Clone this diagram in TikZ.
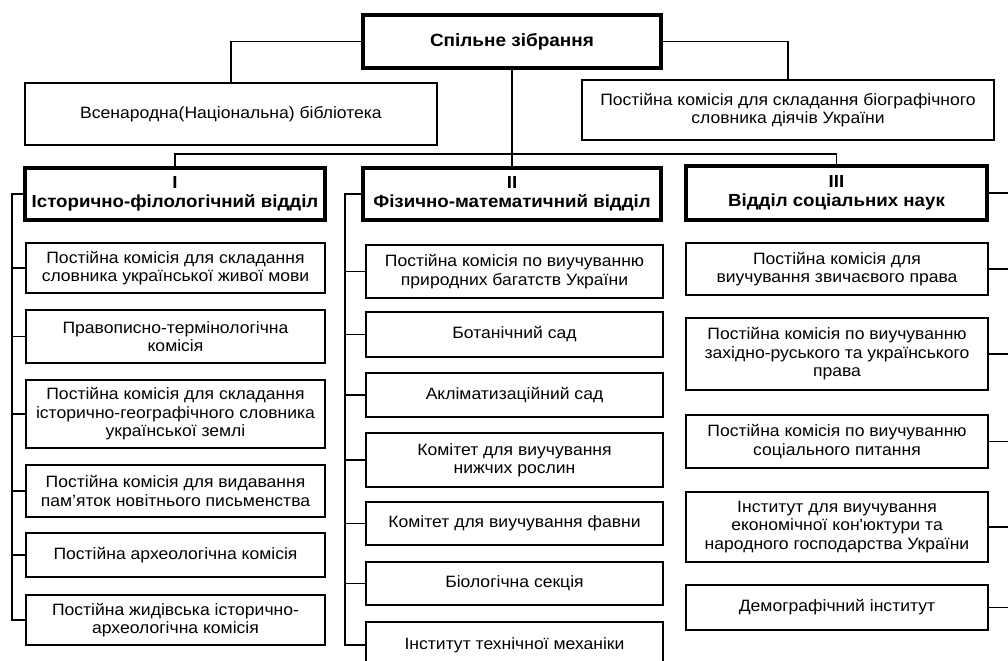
\documentclass[tikz,border=0pt]{standalone}
\usepackage{fontspec}
\setmainfont{Liberation Sans}[FakeStretch=1.07]
\usepackage{tikz}
\usetikzlibrary{positioning}
\tikzstyle{unit}=[draw,line width=1.1pt,align=center,inner sep=1pt,font=\fontsize{12.3}{13.8}\selectfont]
\tikzstyle{dept}=[draw,line width=2.6pt,align=center,inner sep=0pt,font=\bfseries\fontsize{13.1}{14.5}\selectfont]
\tikzstyle{chief}=[draw,line width=3.6pt,align=center,inner sep=0pt,font=\bfseries\fontsize{13.3}{14.5}\selectfont]
\tikzstyle{edge} = [draw,line width=1pt,-]

\begin{document}
\begin{tikzpicture}[x=0.75pt,y=-0.75pt]
    \useasboundingbox (0,0) rectangle (1008,661);
    % Top level
    \node[chief,minimum width=298*0.75pt,minimum height=53*0.75pt] (top) at (512,41.5) {Спільне зібрання};
    \node[unit,minimum width=412*0.75pt,minimum height=62*0.75pt] (lib) at (231,114) {Всенародна(Національна) бібліотека};
    \node[unit,minimum width=412*0.75pt,minimum height=60*0.75pt] (bio) at (788,110) {Постійна комісія для складання біографічного\\словника діячів України};

    % Departments
    \node[dept,minimum width=300*0.75pt,minimum height=52*0.75pt] (dI) at (175,194) {I\\Історично-філологічний відділ};
    \node[dept,minimum width=298*0.75pt,minimum height=52*0.75pt] (dII) at (512,194) {II\\Фізично-математичний відділ};
    \node[dept,minimum width=301*0.75pt,minimum height=54*0.75pt] (dIII) at (836.5,193) {III\\Відділ соціальних наук};

    % Commissions of the first department
    \foreach \y/\h/\name/\txt in {268/50/a1/{Постійна комісія для складання\\словника української живої мови},
        336.5/53/a2/{Правописно-термінологічна\\комісія},
        414/68/a3/{Постійна комісія для складання\\історично-географічного словника\\української землі},
        491/52/a4/{Постійна комісія для видавання\\пам’яток новітнього письменства},
        555/44/a5/{Постійна археологічна комісія},
        620/50/a6/{Постійна жидівська історично-\\археологічна комісія}}
        \node[unit,minimum width=299*0.75pt,minimum height=\h*0.75pt] (\name) at (175.5,\y) {\txt};

    % Commissions of the second department
    \foreach \y/\h/\name/\txt in {271.5/53/b1/{Постійна комісія по виучуванню\\природних багатств України},
        334.5/45/b2/{Ботанічний сад},
        395/44/b3/{Акліматизаційний сад},
        460/54/b4/{Комітет для виучування\\нижчих рослин},
        523.5/43/b5/{Комітет для виучування фавни},
        583.5/43/b6/{Біологічна секція},
        645/46/b7/{Інститут технічної механіки}}
        \node[unit,minimum width=297*0.75pt,minimum height=\h*0.75pt] (\name) at (514.5,\y) {\txt};

    % Commissions of the third department
    \foreach \y/\h/\name/\txt in {269/52/c1/{Постійна комісія для\\виучування звичаєвого права},
        354/72/c2/{Постійна комісія по виучуванню\\західно-руського та українського\\права},
        441.5/53/c3/{Постійна комісія по виучуванню\\соціального питання},
        527/70/c4/{Інститут для виучування\\економічної кон\textquotesingle юктури та\\народного господарства України},
        607.5/45/c5/{Демографічний інститут}}
        \node[unit,minimum width=302*0.75pt,minimum height=\h*0.75pt] (\name) at (837,\y) {\txt};

    % Connect the boxes
    \coordinate (bus) at (512,154);
    \coordinate (lI) at (12,0);
    \coordinate (lII) at (345,0);
    \coordinate (lIII) at (1012,0);
    \path[edge] (top.west) -| (lib.north);
    \path[edge] (top.east) -| (bio.north);
    \path[edge] (top.south) -- (dII.north);
    \path[edge] (dI.north) |- (bus) -| (dIII.north);

    \path[edge] (dI.west) -| (lI |- a6.west) -- (a6.west);
    \foreach \n in {a1,a2,a3,a4,a5}
        \path[edge] (\n.west) -- (\n.west -| lI);
    \path[edge] (dII.west) -| (lII |- b7.west) -- (b7.west);
    \foreach \n in {b1,b2,b3,b4,b5,b6}
        \path[edge] (\n.west) -- (\n.west -| lII);
    \path[edge] (dIII.east) -| (lIII |- c5.east) -- (c5.east);
    \foreach \n in {c1,c2,c3,c4}
        \path[edge] (\n.east) -- (\n.east -| lIII);
\end{tikzpicture}
\end{document}
